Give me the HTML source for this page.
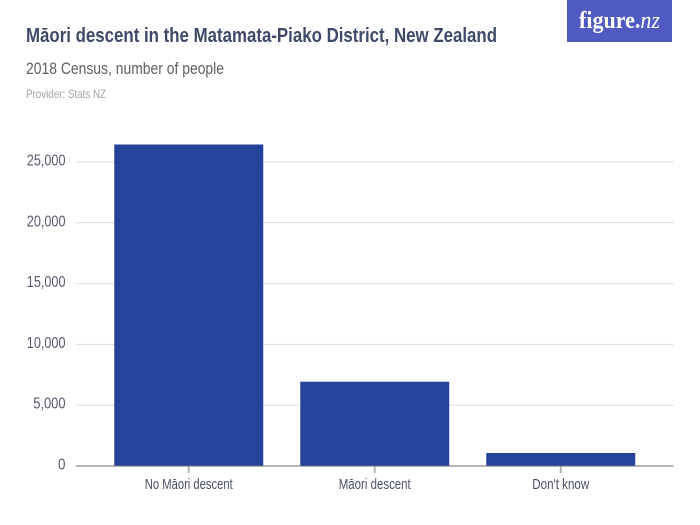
<!DOCTYPE html>
<html lang="en">
<head>
<meta charset="utf-8">
<title>Māori descent in the Matamata-Piako District, New Zealand</title>
<style>
  html, body { margin: 0; padding: 0; background: #fff; }
  body { width: 700px; height: 525px; overflow: hidden; }
  svg { display: block; font-family: "Liberation Sans", sans-serif; }
</style>
</head>
<body>
<svg id="chart" width="700" height="525" viewBox="0 0 700 525" xmlns="http://www.w3.org/2000/svg">
  <rect x="0" y="0" width="700" height="525" fill="#ffffff"/>
  <text x="26" y="42" font-size="20" font-weight="700" fill="#3e4a68" textLength="471" lengthAdjust="spacingAndGlyphs">Māori descent in the Matamata-Piako District, New Zealand</text>
  <text x="26" y="74" font-size="17" fill="#5f6066" textLength="198" lengthAdjust="spacingAndGlyphs">2018 Census, number of people</text>
  <text x="26" y="98" font-size="12" fill="#a3a4a8" textLength="80" lengthAdjust="spacingAndGlyphs">Provider: Stats NZ</text>
  <g>
    <rect x="567" y="0" width="105" height="42" fill="#4f5bc0"/>
    <text x="579" y="28" font-family="'Liberation Serif', serif" font-size="24" font-weight="700" fill="#ffffff" textLength="81" lengthAdjust="spacingAndGlyphs">figure.<tspan font-style="italic" font-weight="400">nz</tspan></text>
  </g>
  <g id="grid"></g>
  <g id="y-axis"></g>
  <g id="bars"></g>
  <g id="x-axis"></g>
</svg>
<script>
const categories = ["No Māori descent", "Māori descent", "Don't know"];
const values = [26440, 6930, 1070];
const yTicks = [0, 5000, 10000, 15000, 20000, 25000];
const yTickLabels = ["0", "5,000", "10,000", "15,000", "20,000", "25,000"];
const categoryLabelWidths = [88, 72, 57];

const NS = "http://www.w3.org/2000/svg";
const plotLeft = 76;
const plotRight = 673.5;
const baseline = 466;
const pixelsPerUnit = 60.8 / 5000;
const bandWidth = 186;
const outerPad = (plotRight - plotLeft - bandWidth * categories.length) / 2;
const barWidth = 149;

function yScale(v) {
  return baseline - v * pixelsPerUnit;
}
function xCenter(i) {
  return plotLeft + outerPad + bandWidth * i + bandWidth / 2;
}
function make(tag, attrs, parent) {
  const el = document.createElementNS(NS, tag);
  Object.keys(attrs).forEach(function (k) { el.setAttribute(k, attrs[k]); });
  parent.appendChild(el);
  return el;
}

const gridGroup = document.getElementById("grid");
const yAxisGroup = document.getElementById("y-axis");
const barsGroup = document.getElementById("bars");
const xAxisGroup = document.getElementById("x-axis");

yTicks.forEach(function (t, i) {
  if (t !== 0) {
    const line = make("line", { x1: plotLeft, x2: plotRight, y1: yScale(t), y2: yScale(t), stroke: "#dcdcdc", "stroke-width": 1 }, gridGroup);
    
    
  }
  const label = make("text", { x: 65.5, y: yScale(t) + 3.5, "text-anchor": "end", "font-size": 15.5, fill: "#55586a" }, yAxisGroup);
  
  
  label.setAttribute('textLength', yTickLabels[i].length * 6.45 + (yTickLabels[i].length > 1 ? 0 : 1));
  label.setAttribute('lengthAdjust', 'spacingAndGlyphs');
  label.textContent = yTickLabels[i];
});

categories.forEach(function (c, i) {
  const bar = make("rect", { x: xCenter(i) - barWidth / 2, y: yScale(values[i]), width: barWidth, height: baseline - yScale(values[i]), fill: "#25439a" }, barsGroup);
  
  

  const tick = make("line", { x1: xCenter(i), x2: xCenter(i), y1: baseline, y2: baseline + 7, stroke: "#b5b5b8", "stroke-width": 2 }, xAxisGroup);
  
  

  const label = make("text", { x: xCenter(i), y: 489, "text-anchor": "middle", "font-size": 14.5, fill: "#4c5068" }, xAxisGroup);
  
  
  label.setAttribute('textLength', categoryLabelWidths[i]);
  label.setAttribute('lengthAdjust', 'spacingAndGlyphs');
  label.textContent = c;
});

const axisLine = make("line", { x1: plotLeft, x2: plotRight, y1: baseline, y2: baseline, stroke: "#6b6b70", "stroke-width": 1 }, xAxisGroup);


</script>
</body>
</html>
